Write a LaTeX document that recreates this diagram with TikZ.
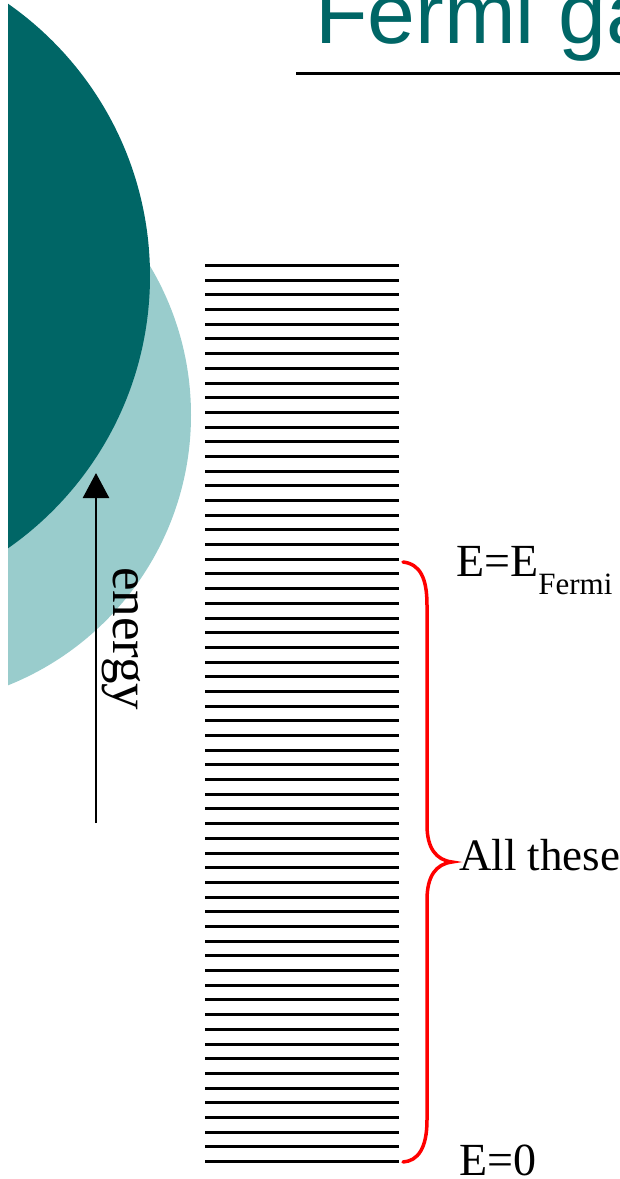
\documentclass[tikz,border=0pt]{standalone}
\usepackage{fontspec}
\setmainfont{Liberation Serif}
\newfontfamily\titlefont{Liberation Sans}
\usetikzlibrary{arrows.meta}
\definecolor{tealdark}{RGB}{0,102,102}
\definecolor{teallight}{RGB}{153,204,204}
\tikzset{
  levelline/.style={line width=3pt, black},
  lab/.style={inner sep=0pt, anchor=base west},
  bracestyle/.style={red, line width=3.5pt, line cap=round},
  arrowstyle/.style={line width=2.5pt, -{Triangle[length=25pt,width=26pt]}}
}
\begin{document}
\begin{tikzpicture}[x=1pt,y=-1pt]
\useasboundingbox (0,0) rectangle (620,1179);
\clip (0,0) rectangle (620,1179);
\begin{scope}
  \clip (8,0) rectangle (620,1179);
  \fill[teallight] (-100,415) circle[radius=291];
  \fill[tealdark] (-182,276) circle[radius=332];
\end{scope}
% title
\node[lab, font=\titlefont\fontsize{86}{86}\selectfont, text=tealdark] (title) at (315,43) {Fermi ga};
\coordinate (ulstart) at (296,73);
\coordinate (ulend) at (620,73);
\draw[line width=3pt] (ulstart) -- (ulend);
% energy levels
\foreach \i in {0,...,61} {
  \pgfmathsetmacro{\yy}{round(265+\i*14.689)+0.5}
  \draw[levelline] (205,\yy) -- (399,\yy);
}
% energy arrow
\coordinate (arrowfoot) at (96,823);
\coordinate (arrowtip) at (96,473);
\draw[arrowstyle] (arrowfoot) -- (arrowtip);
\node[lab, rotate=-90, font=\fontsize{53}{53}\selectfont] (energy) at (113,567) {energy};
% brace
\coordinate (btop) at (403,562);
\coordinate (btip) at (452,862);
\coordinate (bbot) at (403,1162);
\draw[bracestyle] (btop) .. controls (420,564) and (427,578) .. (427,605)
  -- (427,825) .. controls (427,848) and (436,860) .. (btip)
  .. controls (436,864) and (427,876) .. (427,900)
  -- (427,1120) .. controls (427,1148) and (418,1161) .. (bbot);
% labels
\node[lab, font=\fontsize{46}{46}\selectfont] (efermi) at (456,576) {E=E\raisebox{-18pt}{\fontsize{31}{31}\selectfont Fermi}};
\node[lab, font=\fontsize{45}{45}\selectfont] (allthese) at (459,870) {All these};
\node[lab, font=\fontsize{46}{46}\selectfont] (ezero) at (459,1175) {E=0};
\end{tikzpicture}
\end{document}
